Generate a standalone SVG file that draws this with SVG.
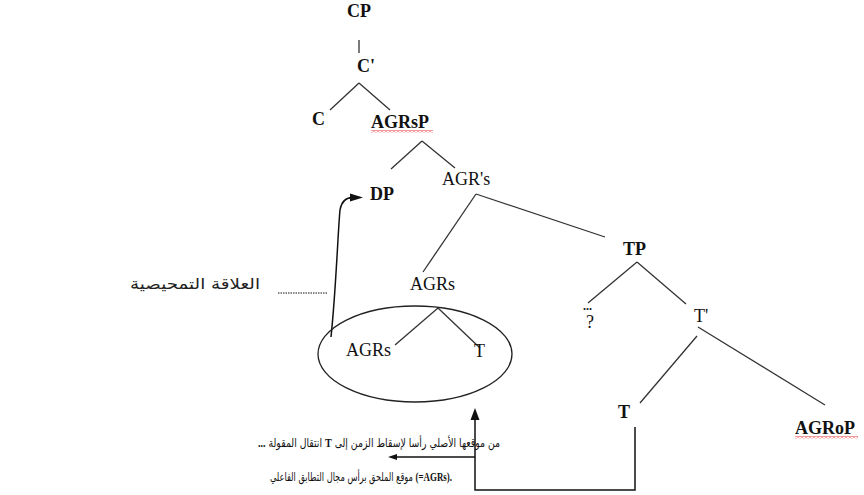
<svg xmlns="http://www.w3.org/2000/svg" width="864" height="495" viewBox="0 0 864 495">
<style>
.lbl{font-family:"Liberation Serif","Times New Roman",serif;font-size:18px;fill:#111}
.b{font-weight:bold}
.ar{font-family:"DejaVu Sans","Noto Sans",sans-serif;font-size:12px;fill:#111}
.ar2{font-family:"DejaVu Sans","Noto Sans",sans-serif;font-size:15px;fill:#222}
.sm{font-family:"Liberation Serif","Times New Roman",serif;font-size:13px;font-weight:bold;fill:#111}
.edge{stroke:#333;stroke-width:1.3;fill:none}
.arr{stroke:#111;stroke-width:1.5;fill:none}
</style>
<defs>
<pattern id="wavy" width="4" height="3" patternUnits="userSpaceOnUse">
<path d="M0,0.5 L2,2.5 L4,0.5" stroke="#d00" stroke-width="0.8" fill="none"/>
</pattern>
</defs>
<rect width="864" height="495" fill="#fff"/>

<g id="connectors">
<line class="edge" x1="359" y1="40" x2="359" y2="53"/>
<line class="edge" x1="359" y1="83" x2="330" y2="110"/>
<line class="edge" x1="359" y1="83" x2="390" y2="110"/>
<line class="edge" x1="422" y1="141" x2="391" y2="169"/>
<line class="edge" x1="422" y1="141" x2="455" y2="168"/>
<line class="edge" x1="476" y1="194" x2="423" y2="272"/>
<line class="edge" x1="476" y1="194" x2="605" y2="237"/>
<line class="edge" x1="637" y1="262" x2="588" y2="303"/>
<line class="edge" x1="637" y1="262" x2="686" y2="304"/>
<line class="edge" x1="697" y1="336" x2="640" y2="403"/>
<line class="edge" x1="698" y1="327" x2="825" y2="405"/>
<line class="edge" x1="438" y1="308" x2="395" y2="345"/>
<line class="edge" x1="438" y1="308" x2="480" y2="348"/>
<path class="arr" d="M331,337 C336,290 338,230 340,210 Q342,198 352,197.5"/>
<polygon points="350,193.5 363,197.5 350,201.5" fill="#111"/>
<line x1="278" y1="293" x2="328" y2="293" stroke="#888" stroke-width="2" stroke-dasharray="1.5 1"/>
<polyline class="arr" points="635,427 635,490 475,490 475,418"/>
<polygon points="470.5,420 475,408 479.5,420" fill="#111"/>
<line class="arr" x1="475" y1="457" x2="396" y2="457"/>
<polygon points="397,454 388,457 397,460" fill="#111"/>
</g>

<g id="ellipse"><ellipse cx="415" cy="354" rx="97" ry="48" fill="none" stroke="#222" stroke-width="1.3"/></g>

<g id="node-CP"><text class="lbl b" x="347" y="17">CP</text></g>
<g id="node-C1"><text class="lbl b" x="357" y="72">C'</text></g>
<g id="node-C"><text class="lbl b" x="312" y="125">C</text></g>
<g id="node-AGRsP"><text class="lbl b" x="371" y="128">AGRsP</text><rect x="371" y="130" width="62" height="3" fill="url(#wavy)"/></g>
<g id="node-DP"><text class="lbl b" x="370" y="200">DP</text></g>
<g id="node-AGR1s"><text class="lbl" x="442" y="185">AGR's</text></g>
<g id="node-AGRs"><text class="lbl" x="410" y="290">AGRs</text></g>
<g id="node-TP"><text class="lbl b" x="623" y="255">TP</text></g>
<g id="node-Q"><text class="lbl b" x="583" y="310" style="font-size:12px">...</text><text class="lbl" x="586" y="328">?</text></g>
<g id="node-T1"><text class="lbl" x="694" y="322">T'</text></g>
<g id="node-AGRs2"><text class="lbl" x="346" y="356">AGRs</text></g>
<g id="node-T2"><text class="lbl" x="474" y="357">T</text></g>
<g id="node-T"><text class="lbl b" x="618" y="418">T</text></g>
<g id="node-AGRoP"><text class="lbl b" x="795" y="434">AGRoP</text><rect x="795" y="436" width="63" height="3" fill="url(#wavy)"/></g>

<g id="label-relation">
<text class="ar2" x="130" y="289" textLength="130" lengthAdjust="spacingAndGlyphs">العلاقة التمحيصية</text>
</g>
<g id="label-movement">
<text class="ar" x="258" y="447" textLength="242" lengthAdjust="spacingAndGlyphs"><tspan class="sm">...</tspan> انتقال المقولة <tspan class="sm">T</tspan> من موقعها الأصلي رأسا لإسقاط الزمن إلى</text>
<text class="ar" x="270" y="481" textLength="182" lengthAdjust="spacingAndGlyphs">موقع الملحق برأس مجال التطابق الفاعلي <tspan class="sm">(=AGRs).</tspan></text>
</g>
</svg>
